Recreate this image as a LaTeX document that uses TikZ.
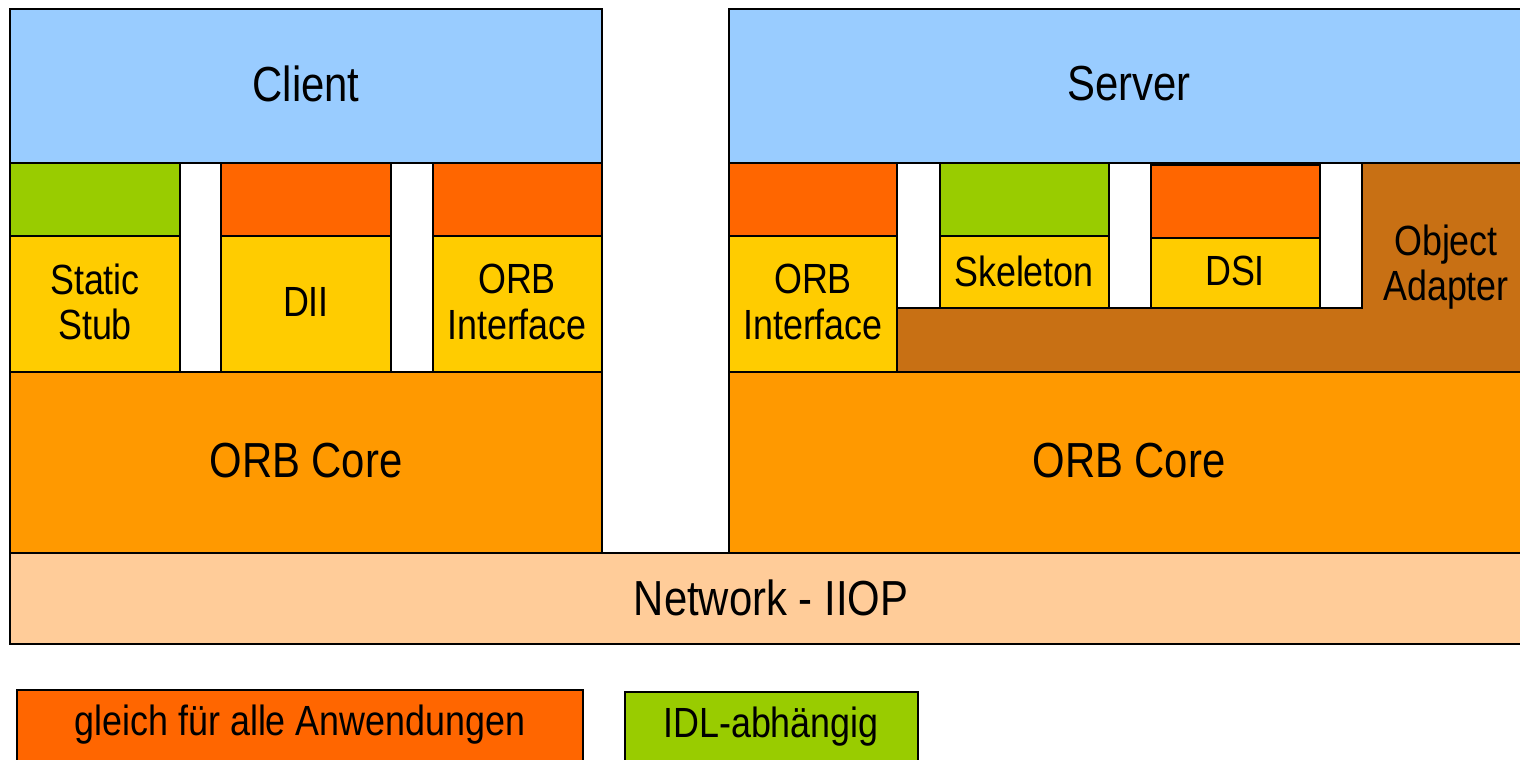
\documentclass[tikz,border=0pt]{standalone}
\usepackage{fontspec}
\setmainfont{Liberation Sans}[FakeStretch=0.85]
\definecolor{clientblue}{HTML}{99CCFF}
\definecolor{idlgreen}{HTML}{99CC00}
\definecolor{fixorange}{HTML}{FF6600}
\definecolor{ifyellow}{HTML}{FFCC00}
\definecolor{coreorange}{HTML}{FF9900}
\definecolor{adapterbrown}{HTML}{C87014}
\definecolor{netpeach}{HTML}{FFCC99}

\begin{document}
\begin{tikzpicture}[x=0.01cm,y=-0.01cm,line width=0.7pt,
    big/.style={font=\fontsize{14}{16}\selectfont},
    small/.style={font=\fontsize{12}{13}\selectfont,align=center}]
\clip (0,0) rectangle (1520,759);
\useasboundingbox (0,0) rectangle (1520,759);

\filldraw[fill=clientblue] (10,9) rectangle (602,163); \node[big] (client) at (306,84) {Client};
\filldraw[fill=idlgreen] (10,163) rectangle (180,236);
\filldraw[fill=ifyellow] (10,236) rectangle (180,372); \node[small] (stub) at (95,302) {Static\\Stub};
\draw (180,163) rectangle (221,372);
\filldraw[fill=fixorange] (221,163) rectangle (391,236);
\filldraw[fill=ifyellow] (221,236) rectangle (391,372); \node[small] (dii) at (306,302) {DII};
\draw (391,163) rectangle (433,372);
\filldraw[fill=fixorange] (433,163) rectangle (602,236);
\filldraw[fill=ifyellow] (433,236) rectangle (602,372); \node[small] (corbif) at (517,302) {ORB\\Interface};
\filldraw[fill=coreorange] (10,372) rectangle (602,553); \node[big] (ccore) at (306,461) {ORB Core};

\filldraw[fill=clientblue] (729,9) rectangle (1530,163); \node[big] (server) at (1129,84) {Server};
\filldraw[fill=fixorange] (729,163) rectangle (897,236);
\filldraw[fill=ifyellow] (729,236) rectangle (897,372); \node[small] (sorbif) at (813,302) {ORB\\Interface};
\filldraw[fill=adapterbrown] (897,308) -- (1362,308) -- (1362,163) -- (1530,163) -- (1530,372) -- (897,372) -- cycle;
\node[small] (adapter) at (1446,267) {Object\\Adapter};
\draw (897,163) rectangle (940,308);
\filldraw[fill=idlgreen] (940,163) rectangle (1109,236);
\filldraw[fill=ifyellow] (940,236) rectangle (1109,308); \node[small] (skel) at (1024,271) {Skeleton};
\draw (1109,163) rectangle (1151,308);
\filldraw[fill=fixorange] (1151,165) rectangle (1320,238);
\filldraw[fill=ifyellow] (1151,238) rectangle (1320,308); \node[small] (dsi) at (1235,271) {DSI};
\draw (1320,163) rectangle (1362,308);
\filldraw[fill=coreorange] (729,372) rectangle (1530,553); \node[big] (score) at (1129,461) {ORB Core};

\filldraw[fill=netpeach] (10,553) rectangle (1530,644); \node[big] (net) at (771,598) {Network - IIOP};

\filldraw[fill=fixorange] (17,690) rectangle (583,770); \node[small] (legfix) at (300,725) {gleich für alle Anwendungen};
\filldraw[fill=idlgreen] (625,692) rectangle (918,770); \node[small] (legidl) at (771,727) {IDL-abhängig};
\end{tikzpicture}
\end{document}
